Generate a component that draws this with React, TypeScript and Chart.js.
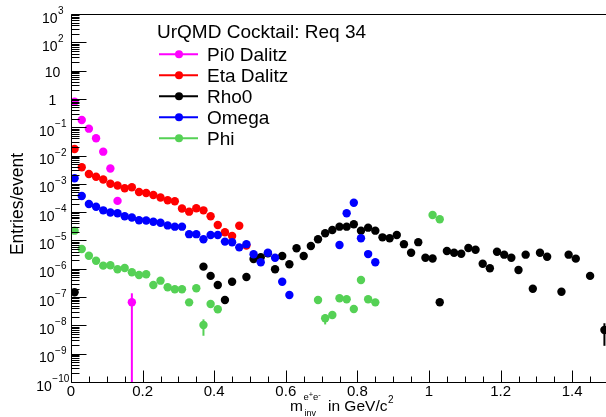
import React, { useEffect, useRef } from "react";
import { Chart, registerables } from "chart.js";

Chart.register(...registerables);

// Bin centres (GeV/c^2), 0.02 GeV bins
const binCenters = [
  0.01, 0.03, 0.05, 0.07, 0.09, 0.11, 0.13, 0.15, 0.17, 0.19,
  0.21, 0.23, 0.25, 0.27, 0.29, 0.31, 0.33, 0.35, 0.37, 0.39,
  0.41, 0.43, 0.45, 0.47, 0.49, 0.51, 0.53, 0.55, 0.57, 0.59,
  0.61, 0.63, 0.65, 0.67, 0.69, 0.71, 0.73, 0.75, 0.77, 0.79,
  0.81, 0.83, 0.85, 0.87, 0.89, 0.91, 0.93, 0.95, 0.97, 0.99,
  1.01, 1.03, 1.05, 1.07, 1.09, 1.11, 1.13, 1.15, 1.17, 1.19,
  1.21, 1.23, 1.25, 1.27, 1.29, 1.31, 1.33, 1.35, 1.37, 1.39,
  1.41, 1.43, 1.45, 1.47, 1.49,
];

const pi0Dalitz = [0.8, 0.18, 0.089, 0.041, 0.0137, 0.0035, 2.5e-4, null, 6.6e-8];
const pi0Errors = [[0.17, 7e-8]];

const etaDalitz = [
  0.017, 0.00385, 0.00223, 0.00179, 0.00143, 0.00101, 8.75e-4, 6.97e-4, 7.55e-4, 5.15e-4,
  4.75e-4, 4.04e-4, 3.3e-4, 2.62e-4, 2.44e-4, 1.35e-4, 1.04e-4, 1.38e-4, 1.16e-4, 7.2e-5,
  3.5e-5, 1.95e-5, 1.44e-5, 3.3e-5, 6.6e-6,
];

const rho0 = [
  1.48e-7, null, null, null, null, null, null, null, null, null,
  null, null, null, null, null, null, null, null, 1.19e-6, 5.6e-7,
  2.67e-7, 7.9e-8, 3.5e-7, null, 5.1e-7, 2.22e-6, 2.55e-6, 3.5e-6, 9.6e-7, 2.83e-6,
  1.44e-6, 5.3e-6, 2.83e-6, 6.4e-6, 1.1e-5, 1.8e-5, 2.35e-5, 3.07e-5, 3.07e-5, 3.73e-5,
  2.22e-5, 2.83e-5, 2.22e-5, 1.29e-5, 1.19e-5, 1.56e-5, 7.4e-6, 3.7e-6, 8.7e-6, 2.46e-6,
  2.31e-6, 6.6e-8, 4.25e-6, 3.7e-6, 3.4e-6, 5.4e-6, 4.7e-6, 1.51e-6, 1.04e-6, 4.0e-6,
  3.15e-6, 2.46e-6, 9.1e-7, 3.15e-6, 1.98e-7, 3.7e-6, 2.67e-6, null, 1.55e-7, 3.15e-6,
  2.28e-6, null, 5.6e-7, null, 6.9e-9,
];
const rho0Errors = [[1.49, 5e-9]];

const omega = [
  1.57e-3, 3.73e-4, 1.94e-4, 1.56e-4, 1.16e-4, 9.7e-5, 9.1e-5, 7.2e-5, 6.5e-5, 5.2e-5,
  5.1e-5, 4.6e-5, 4.2e-5, 3.4e-5, 3.07e-5, 3.07e-5, 1.67e-5, 1.67e-5, 1.1e-5, 1.56e-5,
  1.56e-5, 9.1e-6, 8.6e-6, 5.7e-6, 7.4e-6, 3.25e-6, 1.7e-6, 3.7e-6, 2.46e-6, 3.5e-7,
  1.19e-7, null, null, null, null, null, null, 6.9e-6, 9.1e-5, 2.16e-4,
  1.19e-5, 3.3e-6, 1.7e-6,
];

const phi = [
  2.22e-5, 5.0e-6, 2.88e-6, 1.93e-6, 1.29e-6, 1.33e-6, 9.6e-7, 1.07e-6, 7.5e-7, 6.0e-7,
  6.4e-7, 2.67e-7, 3.8e-7, 2.22e-7, 1.88e-7, 1.88e-7, 6.5e-8, 2.05e-7, 1.03e-8, 5.7e-8,
  3.7e-8, null, null, null, null, null, null, null, null, null,
  null, null, null, null, 7.9e-8, 1.78e-8, 2.33e-8, 9.1e-8, 8.4e-8, 3.8e-8,
  4.0e-7, 8.4e-8, 6.5e-8, null, null, null, null, null, null, null,
  7.9e-5, 5.6e-5,
];
const phiErrors = [[0.37, 6e-9], [0.71, 7e-9]];

const seriesLabels = ["Pi0 Dalitz", "Eta Dalitz", "Rho0", "Omega", "Phi"];
const seriesColors = ["#ff00ff", "#ff0000", "#000000", "#0000ff", "#55d155"];

const legendTitle = "UrQMD Cocktail: Req 34";

const xTickValues = [0, 0.2, 0.4, 0.6, 0.8, 1, 1.2, 1.4];
const xTickLabels = ["0", "0.2", "0.4", "0.6", "0.8", "1", "1.2", "1.4"];
const yTickExponents = [3, 2, 1, 0, -1, -2, -3, -4, -5, -6, -7, -8, -9, -10];

const FONT = "'Liberation Sans', Arial, Helvetica, sans-serif";
const CANVAS_W = 620;
const CANVAS_H = 417;

function toPoints(values: (number | null)[]) {
  const pts: { x: number; y: number }[] = [];
  values.forEach((v, i) => {
    if (v !== null && v !== undefined) pts.push({ x: binCenters[i], y: v });
  });
  return pts;
}

const rootStylePlugin = {
  id: "rootStyle",
  beforeDatasetsDraw(chart: any) {
    const { ctx, chartArea } = chart;
    const xs = chart.scales.x;
    const ys = chart.scales.y;
    ctx.save();
    ctx.beginPath();
    ctx.rect(chartArea.left, chartArea.top, chartArea.right - chartArea.left, chartArea.bottom - chartArea.top);
    ctx.clip();
    chart.data.datasets.forEach((ds: any) => {
      const errs = ds.errs || [];
      errs.forEach(([ex, err]: [number, number]) => {
        const p = ds.data.find((d: any) => Math.abs(d.x - ex) < 1e-6);
        if (!p) return;
        const px = xs.getPixelForValue(p.x);
        const top = ys.getPixelForValue(p.y + err);
        const bot = p.y - err > 0 ? ys.getPixelForValue(p.y - err) : chartArea.bottom;
        ctx.strokeStyle = ds.backgroundColor;
        ctx.lineWidth = 2;
        ctx.beginPath();
        ctx.moveTo(px, top);
        ctx.lineTo(px, bot);
        ctx.stroke();
      });
    });
    ctx.restore();
  },
  afterDraw(chart: any) {
    const { ctx, chartArea } = chart;
    const xs = chart.scales.x;
    const ys = chart.scales.y;
    const L = Math.round(chartArea.left) + 0.5;
    const R = Math.round(chartArea.right) + 0.5;
    const T = Math.round(chartArea.top) + 0.5;
    const B = Math.round(chartArea.bottom) + 0.5;
    ctx.save();
    ctx.strokeStyle = "#000";
    ctx.lineWidth = 1;
    // frame
    ctx.beginPath();
    ctx.moveTo(L, B);
    ctx.lineTo(L, T);
    ctx.lineTo(R, T);
    ctx.lineTo(R, B);
    ctx.lineTo(L, B);
    ctx.stroke();

    // y ticks (inside)
    ctx.beginPath();
    const yMin = Math.min(...yTickExponents);
    const yMax = Math.max(...yTickExponents);
    for (let e = yMin; e <= yMax; e++) {
      const py = Math.round(ys.getPixelForValue(Math.pow(10, e))) + 0.5;
      ctx.moveTo(L, py);
      ctx.lineTo(L + 15, py);
      if (e < yMax) {
        for (let k = 2; k <= 9; k++) {
          const my = Math.round(ys.getPixelForValue(k * Math.pow(10, e))) + 0.5;
          ctx.moveTo(L, my);
          ctx.lineTo(L + 8, my);
        }
      }
    }
    // x ticks (inside)
    const xMaxVal = xs.max;
    for (let i = 0; i * 0.05 <= xMaxVal + 1e-9; i++) {
      const v = i * 0.05;
      const px = Math.round(xs.getPixelForValue(v)) + 0.5;
      const major = i % 4 === 0;
      ctx.moveTo(px, B);
      ctx.lineTo(px, B - (major ? 12 : 6));
    }
    ctx.stroke();

    // x labels
    ctx.fillStyle = "#000";
    ctx.font = `15px ${FONT}`;
    ctx.textAlign = "center";
    ctx.textBaseline = "alphabetic";
    xTickValues.forEach((v, i) => {
      ctx.fillText(xTickLabels[i], xs.getPixelForValue(v), 396);
    });

    // y labels
    yTickExponents.forEach((e) => {
      const py = ys.getPixelForValue(Math.pow(10, e));
      const cx = 52.5;
      if (e === 0 || e === 1) {
        ctx.font = `14px ${FONT}`;
        ctx.textAlign = "center";
        ctx.fillText(e === 0 ? "1" : "10", cx, py + 6);
      } else {
        const expStr = e < 0 ? "\u2212" + String(-e) : String(e);
        ctx.font = `14px ${FONT}`;
        const wb = ctx.measureText("10").width;
        ctx.font = `10px ${FONT}`;
        const we = ctx.measureText(expStr).width;
        const x0 = cx - (wb + we) / 2;
        ctx.textAlign = "left";
        ctx.font = `14px ${FONT}`;
        ctx.fillText("10", x0, py + 8.5);
        ctx.font = `10px ${FONT}`;
        ctx.fillText(expStr, x0 + wb + 0.5, py);
      }
    });

    // y title
    ctx.save();
    ctx.translate(22.5, 204);
    ctx.rotate(-Math.PI / 2);
    ctx.font = `17.5px ${FONT}`;
    ctx.textAlign = "center";
    ctx.fillText("Entries/event", 0, 0);
    ctx.restore();

    // x title: m_{inv}^{e+e-} in GeV/c^2
    ctx.textAlign = "left";
    let x = 290;
    ctx.font = `15.5px ${FONT}`;
    ctx.fillText("m", x, 411);
    x += ctx.measureText("m").width + 0.5;
    ctx.font = `9.5px ${FONT}`;
    let sx = x;
    ctx.fillText("e", sx, 400);
    sx += ctx.measureText("e").width;
    ctx.font = `7.5px ${FONT}`;
    ctx.fillText("+", sx, 397);
    sx += ctx.measureText("+").width;
    ctx.font = `9.5px ${FONT}`;
    ctx.fillText("e", sx, 400);
    sx += ctx.measureText("e").width;
    ctx.font = `7.5px ${FONT}`;
    ctx.fillText("-", sx, 397);
    ctx.font = `9px ${FONT}`;
    ctx.fillText("inv", x + 1, 416);
    ctx.font = `15.5px ${FONT}`;
    const mainX = 328;
    ctx.fillText("in GeV/c", mainX, 411);
    const w2 = ctx.measureText("in GeV/c").width;
    ctx.font = `10px ${FONT}`;
    ctx.fillText("2", mainX + w2 + 0.5, 403);

    // legend
    ctx.font = `19px ${FONT}`;
    ctx.textAlign = "left";
    ctx.fillText(legendTitle, 157, 38);
    chart.data.datasets.forEach((ds: any, i: number) => {
      const cy = 54.3 + i * 21;
      ctx.strokeStyle = ds.backgroundColor;
      ctx.lineWidth = 2;
      ctx.beginPath();
      ctx.moveTo(159, cy);
      ctx.lineTo(198, cy);
      ctx.stroke();
      ctx.fillStyle = ds.backgroundColor;
      ctx.beginPath();
      ctx.arc(179, cy, 4, 0, Math.PI * 2);
      ctx.fill();
      ctx.fillStyle = "#000";
      ctx.fillText(ds.label, 207, cy + 6.6);
    });
    ctx.restore();
  },
};

export default function App() {
  const canvasRef = useRef<HTMLCanvasElement | null>(null);

  useEffect(() => {
    const canvas = canvasRef.current;
    if (!canvas) return;
    const seriesValues = [pi0Dalitz, etaDalitz, rho0, omega, phi];
    const seriesErrs = [pi0Errors, [], rho0Errors, [], phiErrors];
    const datasets = seriesValues.map((vals, i) => ({
      label: seriesLabels[i],
      data: toPoints(vals as (number | null)[]),
      backgroundColor: seriesColors[i],
      borderColor: seriesColors[i],
      borderWidth: 0,
      pointRadius: 4.2,
      pointHoverRadius: 4.2,
      showLine: false,
      order: 5 - i,
      errs: seriesErrs[i],
    }));
    const chart = new Chart(canvas, {
      type: "scatter",
      data: { datasets } as any,
      options: {
        animation: false,
        responsive: false,
        devicePixelRatio: 1,
        events: [],
        layout: { padding: { left: 71, top: 14, right: CANVAS_W - 608, bottom: CANVAS_H - 382 } },
        plugins: { legend: { display: false }, tooltip: { enabled: false } },
        scales: {
          x: { type: "linear", min: 0, max: 1.5, display: false },
          y: { type: "logarithmic", min: 1e-10, max: 1e3, display: false },
        },
      } as any,
      plugins: [rootStylePlugin],
    });
    return () => chart.destroy();
  }, []);

  return (
    <div
      style={{
        position: "fixed",
        left: 0,
        top: 0,
        width: 606,
        height: 417,
        overflow: "hidden",
        background: "#fff",
      }}
    >
      <canvas
        ref={canvasRef}
        width={CANVAS_W}
        height={CANVAS_H}
        style={{ width: CANVAS_W, height: CANVAS_H, display: "block" }}
      />
    </div>
  );
}
